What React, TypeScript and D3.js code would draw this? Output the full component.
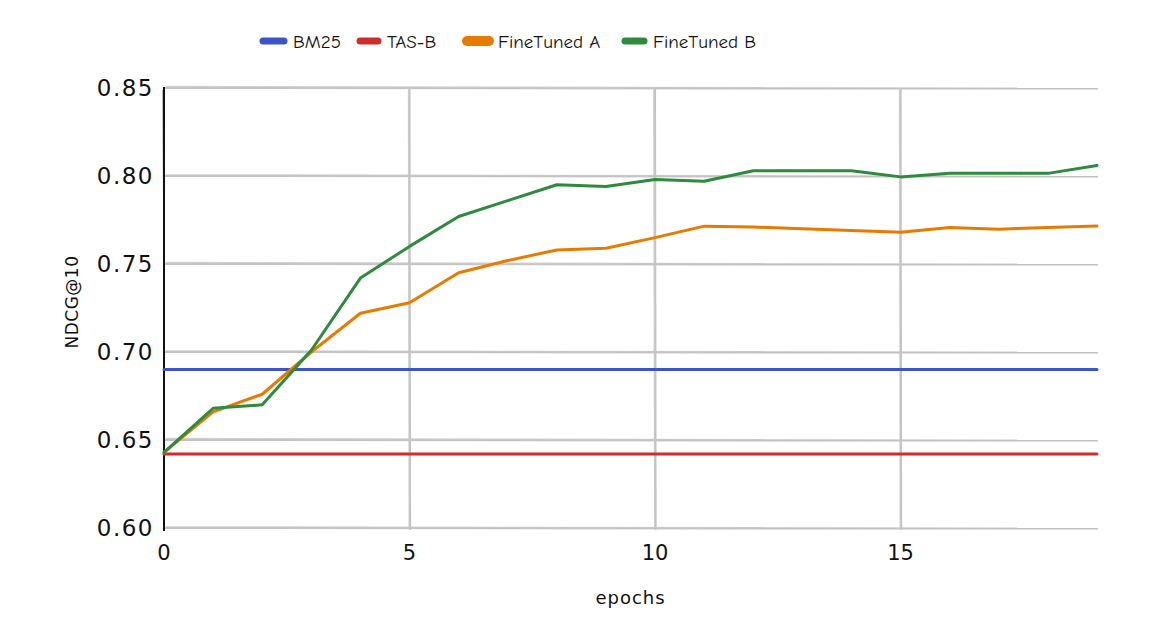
import { useEffect, useRef } from "react";
import * as d3 from "d3";

const epochs = d3.range(0, 20);
const bm25 = 0.69;
const tasB = 0.642;
const fineTunedA = [
  0.643, 0.666, 0.676, 0.7, 0.722, 0.728, 0.745, 0.752, 0.758, 0.759,
  0.765, 0.7715, 0.771, 0.770, 0.769, 0.768, 0.7707, 0.7698, 0.7707, 0.7716,
];
const fineTunedB = [
  0.643, 0.668, 0.67, 0.701, 0.742, 0.76, 0.777, 0.786, 0.795, 0.794,
  0.798, 0.797, 0.803, 0.803, 0.803, 0.7995, 0.8015, 0.8015, 0.8015, 0.806,
];
const yTicks = [0.6, 0.65, 0.7, 0.75, 0.8, 0.85];
const xTicks = [0, 5, 10, 15];

const series = [
  { name: "BM25", color: "#3b54c8", values: epochs.map(() => bm25) },
  { name: "TAS-B", color: "#d02c2c", values: epochs.map(() => tasB) },
  { name: "FineTuned A", color: "#e77b00", values: fineTunedA },
  { name: "FineTuned B", color: "#2e8a3d", values: fineTunedB },
];

const W = 1150;
const H = 620;
const margin = { top: 88, right: 53, bottom: 92, left: 164 };
const FONT = "'Comic Neue', 'Comic Sans MS', 'Humor Sans', Lato, sans-serif";
const AXIS_FONT = "'Comic Sans MS', 'DejaVu Sans', sans-serif";

export default function App() {
  const svgRef = useRef<SVGSVGElement>(null);

  useEffect(() => {
    if (!svgRef.current) return;
    const svg = d3.select(svgRef.current);
    svg.selectAll("*").remove();

    const x = d3.scaleLinear().domain([0, 19]).range([margin.left, W - margin.right]);
    const y = d3.scaleLinear().domain([0.6, 0.85]).range([H - margin.bottom, margin.top]);

    const grid = svg.append("g").attr("stroke", "#c4c4c4").attr("fill", "none");

    // horizontal grid, double stroke for a sketchy look
    yTicks.forEach((t, i) => {
      const yy = y(t);
      grid.append("line")
        .attr("x1", x(0)).attr("x2", x(19) + 1)
        .attr("y1", yy).attr("y2", yy + 0.6)
        .attr("stroke-width", 2);
      grid.append("line")
        .attr("x1", x(0) + 2).attr("x2", x(19) - 1)
        .attr("y1", yy - (i % 2 ? 1.6 : 1.2)).attr("y2", yy + 0.2)
        .attr("stroke-width", 1.2)
        .attr("opacity", 0.8);
    });

    // vertical grid
    xTicks.filter((t) => t > 0).forEach((t, i) => {
      const xx = x(t);
      grid.append("line")
        .attr("x1", xx).attr("x2", xx + 0.6)
        .attr("y1", y(0.85)).attr("y2", y(0.6) + 2)
        .attr("stroke-width", 2);
      grid.append("line")
        .attr("x1", xx - (i % 2 ? 1.4 : 1.1)).attr("x2", xx - 0.4)
        .attr("y1", y(0.85) + 2).attr("y2", y(0.6))
        .attr("stroke-width", 1.2)
        .attr("opacity", 0.8);
    });

    // y axis
    svg.append("line")
      .attr("x1", x(0)).attr("x2", x(0))
      .attr("y1", y(0.85) - 1).attr("y2", y(0.6) + 3)
      .attr("stroke", "#111").attr("stroke-width", 2);
    svg.append("line")
      .attr("x1", x(0) - 0.8).attr("x2", x(0) + 0.4)
      .attr("y1", y(0.85) + 2).attr("y2", y(0.6))
      .attr("stroke", "#111").attr("stroke-width", 1);

    // series lines
    const line = d3.line<number>()
      .x((_, i) => x(epochs[i]))
      .y((d) => y(d));

    series.forEach((s) => {
      svg.append("path")
        .datum(s.values)
        .attr("d", line)
        .attr("fill", "none")
        .attr("stroke", s.color)
        .attr("stroke-width", 3)
        .attr("stroke-linejoin", "round")
        .attr("stroke-linecap", "round");
    });

    // tick labels
    svg.append("g")
      .selectAll("text")
      .data(yTicks)
      .join("text")
      .attr("x", x(0) - 10)
      .attr("y", (d) => y(d))
      .attr("dy", "0.35em")
      .attr("text-anchor", "end")
      .attr("font-family", AXIS_FONT)
      .attr("font-size", 23)
      .attr("letter-spacing", 1.5)
      .attr("fill", "#111")
      .text((d) => d.toFixed(2));

    svg.append("g")
      .selectAll("text")
      .data(xTicks)
      .join("text")
      .attr("x", (d) => x(d))
      .attr("y", y(0.6) + 32)
      .attr("text-anchor", "middle")
      .attr("font-family", AXIS_FONT)
      .attr("font-size", 21)
      .attr("fill", "#111")
      .text((d) => String(d));

    // axis titles
    svg.append("text")
      .attr("x", (x(0) + x(19)) / 2)
      .attr("y", 604)
      .attr("text-anchor", "middle")
      .attr("font-family", AXIS_FONT)
      .attr("font-size", 18)
      .attr("letter-spacing", 1)
      .attr("fill", "#111")
      .text("epochs");

    svg.append("text")
      .attr("transform", "translate(78, 302) rotate(-90)")
      .attr("text-anchor", "middle")
      .attr("font-family", AXIS_FONT)
      .attr("font-size", 17)
      .attr("letter-spacing", 0.5)
      .attr("fill", "#111")
      .text("NDCG@10");

    // legend
    const legendX = [260, 357, 464, 622];
    const swatchW = [27, 24, 28, 25];
    const legend = svg.append("g");
    series.forEach((s, i) => {
      legend.append("line")
        .attr("x1", legendX[i] + 3).attr("x2", legendX[i] + swatchW[i] - 3)
        .attr("y1", 41).attr("y2", 41)
        .attr("stroke", s.color)
        .attr("stroke-width", i === 2 ? 10 : 7)
        .attr("stroke-linecap", "round");
      legend.append("text")
        .attr("x", legendX[i] + swatchW[i] + 6)
        .attr("y", 41)
        .attr("dy", "0.35em")
        .attr("font-family", FONT)
        .attr("font-size", 19)
        .attr("fill", "#111")
        .text(s.name);
    });
  }, []);

  return <svg ref={svgRef} width={W} height={H} style={{ display: "block", marginTop: -8, marginLeft: -8 }} />;
}
